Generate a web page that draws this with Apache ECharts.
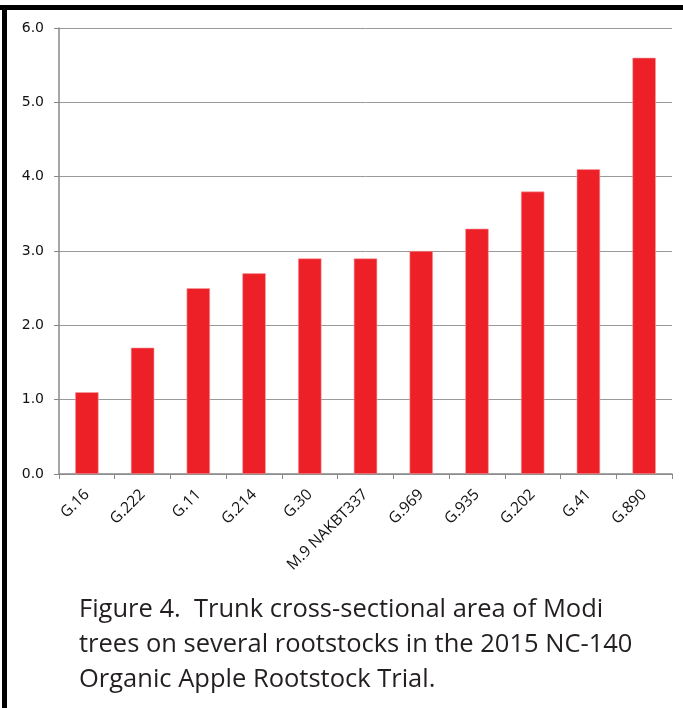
<!DOCTYPE html>
<html>
<head>
<meta charset="utf-8">
<script src="https://cdn.jsdelivr.net/npm/echarts@6/dist/echarts.min.js"></script>
<style>
    html, body { margin: 0; padding: 0; background: #fff; }
    #chart { width: 683px; height: 708px; }
</style>
</head>
<body>
<div id="chart"></div>
<script>
var rootstocks = ['G.16', 'G.222', 'G.11', 'G.214', 'G.30', 'M.9 NAKBT337', 'G.969', 'G.935', 'G.202', 'G.41', 'G.890'];
var tcsa = [1.1, 1.7, 2.5, 2.7, 2.9, 2.9, 3.0, 3.3, 3.8, 4.1, 5.6];
var yTicks = [0, 1, 2, 3, 4, 5, 6];
var caption = 'Figure 4.  Trunk cross-sectional area of Modi\ntrees on several rootstocks in the 2015 NC-140\nOrganic Apple Rootstock Trial.';

var chart = echarts.init(document.getElementById('chart'));
chart.setOption({
    animation: false,
    title: {
        text: caption,
        left: 74,
        top: 587,
        textStyle: {
            fontFamily: 'Open Sans',
            fontSize: 25.5,
            fontWeight: 'normal',
            color: '#231f20',
            lineHeight: 35
        }
    },
    grid: { left: 59, right: 11, top: 28, bottom: 234 },
    xAxis: {
        type: 'category',
        data: rootstocks,
        axisLine: { lineStyle: { color: '#888', width: 1.5 } },
        axisTick: { show: true, length: 5, lineStyle: { color: '#888' } },
        axisLabel: {
            rotate: 45,
            interval: 0,
            margin: 18,
            fontFamily: 'Open Sans',
            fontSize: 15.5,
            color: '#111'
        }
    },
    yAxis: {
        type: 'value',
        min: yTicks[0],
        max: yTicks[yTicks.length - 1],
        interval: 1,
        axisLine: { show: true, lineStyle: { color: '#888', width: 1.5 } },
        axisTick: { show: true, length: 5, lineStyle: { color: '#888' } },
        splitLine: { lineStyle: { color: '#999' } },
        axisLabel: {
            margin: 15,
            fontFamily: 'DejaVu Sans',
            fontSize: 14,
            color: '#111',
            formatter: function (v) { return v.toFixed(1); }
        }
    },
    series: [
        {
            type: 'bar',
            data: tcsa,
            barWidth: '42%',
            itemStyle: {
                color: '#ed2027',
                borderColor: '#f4a0a3',
                borderWidth: 0.6
            }
        }
    ],
    graphic: [
        { type: 'rect', shape: { x: 0, y: 5, width: 683, height: 5 }, style: { fill: '#000' } },
        { type: 'rect', shape: { x: 2, y: 5, width: 5, height: 703 }, style: { fill: '#000' } }
    ]
});
</script>
</body>
</html>
